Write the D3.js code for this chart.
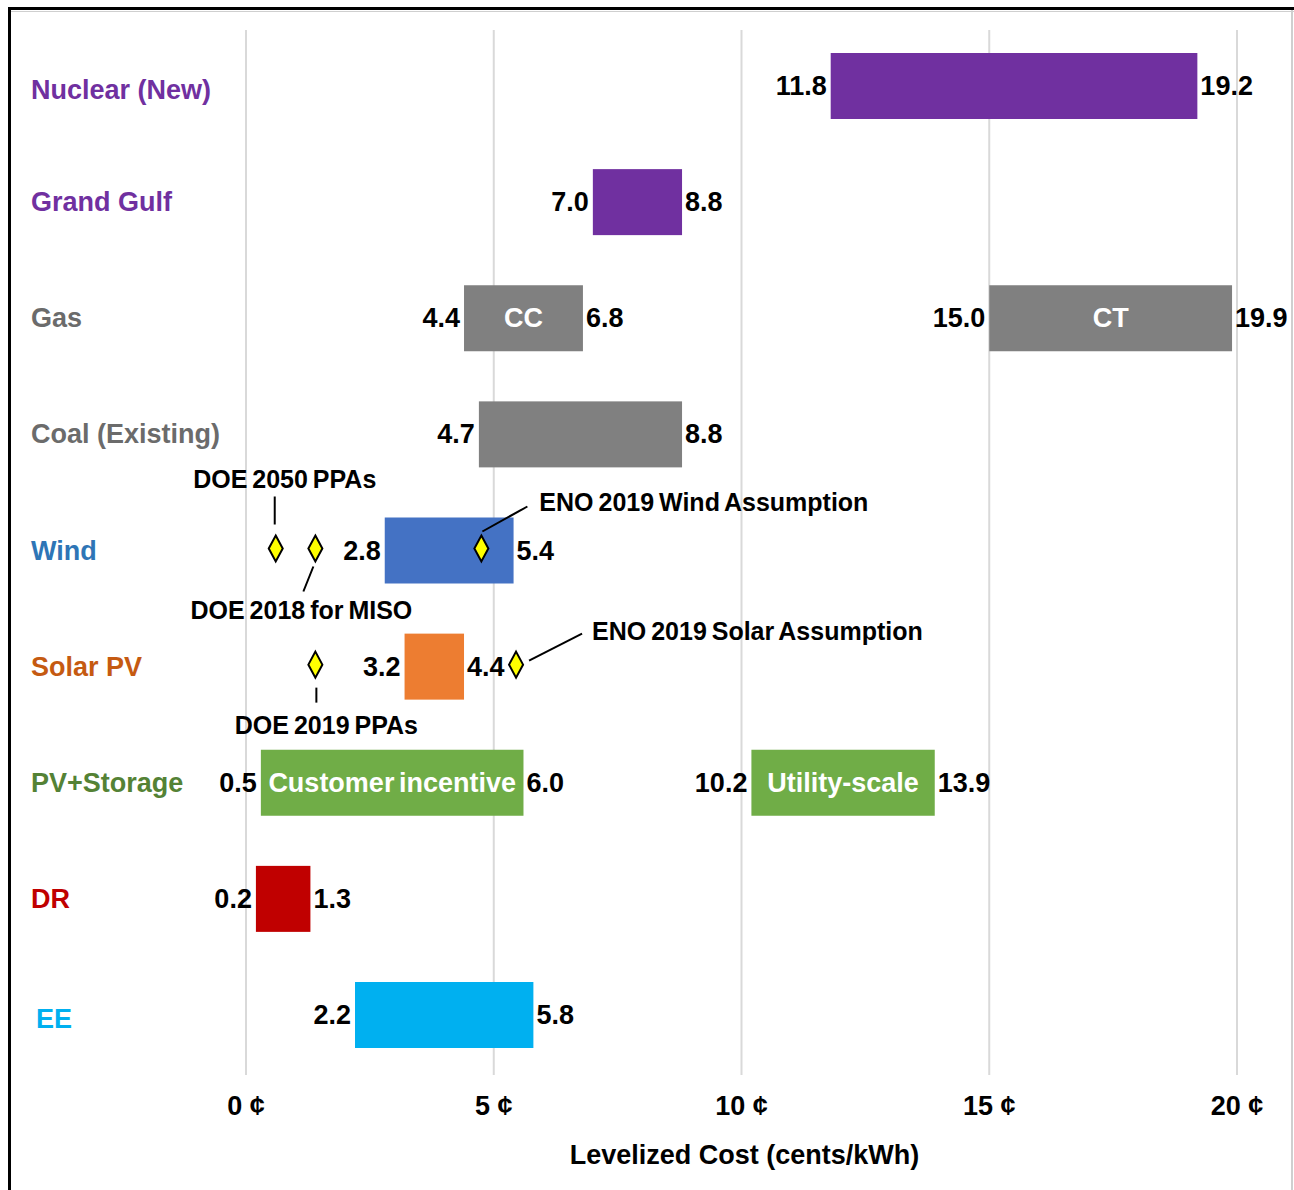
<!DOCTYPE html>
<html>
<head>
<meta charset="utf-8">
<script src="https://cdn.jsdelivr.net/npm/d3@7"></script>
<style>
  body { margin: 0; background: #fff; }
  svg text { font-family: "Liberation Sans", Arial, sans-serif; font-weight: bold; }
</style>
</head>
<body>
<div id="chart"></div>
<script>
// rows, top to bottom
const categories = ["Nuclear (New)", "Grand Gulf", "Gas", "Coal (Existing)", "Wind", "Solar PV", "PV+Storage", "DR", "EE"];
const categoryColors = ["#7030A0", "#7030A0", "#6B6B6B", "#6B6B6B", "#2E75B6", "#C55A11", "#548235", "#C00000", "#00B0F0"];

// floating bars (cents/kWh)
const barCategory = ["Nuclear (New)", "Grand Gulf", "Gas", "Gas", "Coal (Existing)", "Wind", "Solar PV", "PV+Storage", "PV+Storage", "DR", "EE"];
const barStart = [11.8, 7.0, 4.4, 15.0, 4.7, 2.8, 3.2, 0.3, 10.2, 0.2, 2.2];
const barEnd = [19.2, 8.8, 6.8, 19.9, 8.8, 5.4, 4.4, 5.6, 13.9, 1.3, 5.8];
const startLabels = ["11.8", "7.0", "4.4", "15.0", "4.7", "2.8", "3.2", "0.5", "10.2", "0.2", "2.2"];
const endLabels = ["19.2", "8.8", "6.8", "19.9", "8.8", "5.4", "4.4", "6.0", "13.9", "1.3", "5.8"];
const innerLabels = ["", "", "CC", "CT", "", "", "", "Customer incentive", "Utility-scale", "", ""];
const barColors = ["#7030A0", "#7030A0", "#808080", "#808080", "#808080", "#4472C4", "#ED7D31", "#70AD47", "#70AD47", "#C00000", "#00B0F0"];

// reference points (yellow diamonds)
const markerCategory = ["Wind", "Wind", "Wind", "Solar PV", "Solar PV"];
const markerValue = [0.6, 1.4, 4.75, 1.4, 5.45];
const markerLabels = ["DOE 2050 PPAs", "DOE 2018 for MISO", "ENO 2019 Wind Assumption", "DOE 2019 PPAs", "ENO 2019 Solar Assumption"];

const tickValues = [0, 5, 10, 15, 20];
const axisTitle = "Levelized Cost (cents/kWh)";

const width = 1294, height = 1190;

const svg = d3.select("#chart").append("svg")
  .attr("width", width)
  .attr("height", height);

const x = d3.scaleLinear().domain([0, 20]).range([246, 1237]);
const y = d3.scalePoint().domain(categories).range([86, 1015]);
const barH = 66;

// frame
svg.append("line").attr("x1", 1292).attr("x2", 1292).attr("y1", 10).attr("y2", height)
  .attr("stroke", "#bfbfbf").attr("stroke-width", 1.5);
svg.append("line").attr("x1", 10).attr("x2", width).attr("y1", 11.5).attr("y2", 11.5)
  .attr("stroke", "#cfcfcf").attr("stroke-width", 1);
svg.append("line").attr("x1", 8).attr("x2", width).attr("y1", 8.5).attr("y2", 8.5)
  .attr("stroke", "#000").attr("stroke-width", 3);
svg.append("line").attr("x1", 9.5).attr("x2", 9.5).attr("y1", 7).attr("y2", height)
  .attr("stroke", "#000").attr("stroke-width", 3);

// vertical gridlines
svg.append("g").selectAll("line")
  .data(tickValues)
  .join("line")
  .attr("x1", (d) => x(d)).attr("x2", (d) => x(d))
  .attr("y1", 30).attr("y2", 1075)
  .attr("stroke", "#d9d9d9").attr("stroke-width", 2);

// tick labels
svg.append("g").selectAll("text")
  .data(tickValues)
  .join("text")
  .attr("x", (d) => x(d))
  .attr("y", 1115)
  .attr("text-anchor", "middle")
  .style("font-size", "27px")
  .text((d) => `${d} ¢`);

svg.append("text")
  .attr("x", x(10) + 3)
  .attr("y", 1164)
  .attr("text-anchor", "middle")
  .style("font-size", "27px")
  .text(axisTitle);

// category labels
svg.append("g").selectAll("text")
  .data(categories)
  .join("text")
  .attr("x", (d, i) => (i === 8 ? 36 : 31))
  .attr("y", (d, i) => y(d) + 9 + (i === 0 ? 4 : i === 8 ? 4 : 0))
  .attr("fill", (d, i) => categoryColors[i])
  .style("font-size", "27px")
  .text((d) => d);

// bars
const bars = barCategory.map((c, i) => ({
  cat: c, start: barStart[i], end: barEnd[i],
  sLab: startLabels[i], eLab: endLabels[i], inner: innerLabels[i], color: barColors[i]
}));

const bar = svg.append("g").selectAll("g")
  .data(bars)
  .join("g");

bar.append("rect")
  .attr("x", (d) => x(d.start))
  .attr("y", (d) => y(d.cat) - barH / 2)
  .attr("width", (d) => x(d.end) - x(d.start))
  .attr("height", barH)
  .attr("fill", (d) => d.color);

bar.append("text")
  .attr("x", (d) => x(d.start) - 4)
  .attr("y", (d) => y(d.cat) + 9)
  .attr("text-anchor", "end")
  .style("font-size", "27px")
  .text((d) => d.sLab);

bar.append("text")
  .attr("x", (d) => x(d.end) + 3)
  .attr("y", (d) => y(d.cat) + 9)
  .style("font-size", "27px")
  .text((d) => d.eLab);

bar.filter((d) => d.inner !== "")
  .append("text")
  .attr("x", (d) => (x(d.start) + x(d.end)) / 2)
  .attr("y", (d) => y(d.cat) + 9)
  .attr("text-anchor", "middle")
  .attr("fill", "#fff")
  .style("font-size", "27px")
  .style("word-spacing", "-3px")
  .text((d) => d.inner);

// annotation layout: leader line (offsets from diamond) and label anchor
const annotationLayout = [
  { l: [-1, -24, -1, -52], t: [9, -61], anchor: "middle" },
  { l: [-2, 18, -12, 43], t: [-14, 70], anchor: "middle" },
  { l: [1, -17, 46, -42], t: [58, -38], anchor: "start" },
  { l: [1, 23, 1, 38], t: [11, 69], anchor: "middle" },
  { l: [13, -4, 66, -31], t: [76, -25], anchor: "start" }
];

const markers = markerCategory.map((c, i) => ({
  cat: c, value: markerValue[i], label: markerLabels[i], lay: annotationLayout[i]
}));

const mk = svg.append("g").selectAll("g")
  .data(markers)
  .join("g")
  .attr("transform", (d) => `translate(${x(d.value)},${y(d.cat) - 2})`);

mk.append("line")
  .attr("x1", (d) => d.lay.l[0]).attr("y1", (d) => d.lay.l[1])
  .attr("x2", (d) => d.lay.l[2]).attr("y2", (d) => d.lay.l[3])
  .attr("stroke", "#000").attr("stroke-width", 2);

mk.append("path")
  .attr("d", "M0,-13L7,0L0,13L-7,0Z")
  .attr("fill", "#FFFF00")
  .attr("stroke", "#000")
  .attr("stroke-width", 2);

mk.append("text")
  .attr("x", (d) => d.lay.t[0])
  .attr("y", (d) => d.lay.t[1])
  .attr("text-anchor", (d) => d.lay.anchor)
  .style("font-size", "25px")
  .style("word-spacing", "-2px")
  .text((d) => d.label);
</script>
</body>
</html>
